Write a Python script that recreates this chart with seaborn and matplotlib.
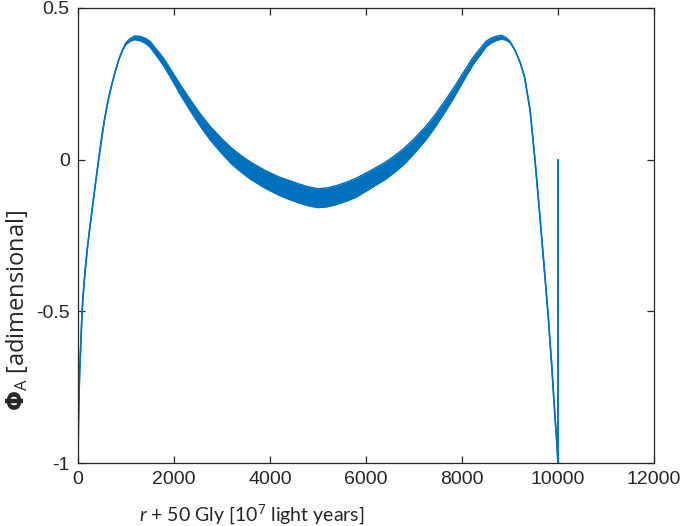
import numpy as np
import pandas as pd
import matplotlib
matplotlib.use("Agg")
import matplotlib.pyplot as plt
import seaborn as sns

# values; the thick part is a fast oscillation,
# kept here as its upper and lower envelope
r_pos = [0, 1, 10, 20, 35, 50, 85, 110, 150, 200, 270, 350, 430, 490, 550,
         620, 700, 775, 850, 925, 1000, 1080, 1180, 1300, 1400, 1500, 1600,
         1700, 1800, 1900, 2000, 2150, 2333, 2550, 2750, 3000, 3200, 3400,
         3600, 3900, 4200, 4400, 4600, 4800, 5000, 5200, 5400, 5600, 5800,
         6100, 6400, 6600, 6800, 7000, 7250, 7450, 7667, 7850, 8000, 8100,
         8200, 8300, 8400, 8500, 8600, 8700, 8820, 8920, 9000, 9100, 9208,
         9300, 9417, 9520, 9625, 9720, 9798, 9870, 9938, 9975, 9999, 10000]
phi_upper = [0.0, -1.0, -0.86, -0.78, -0.70, -0.64, -0.50, -0.44, -0.363,
             -0.285, -0.195, -0.095, 0.0, 0.068, 0.13, 0.19, 0.245, 0.29, 0.33,
             0.36, 0.386, 0.398, 0.408, 0.406, 0.400, 0.390, 0.370, 0.351,
             0.330, 0.305, 0.280, 0.242, 0.199, 0.150, 0.110, 0.068, 0.038,
             0.013, -0.009, -0.036, -0.058, -0.069, -0.080, -0.090, -0.096,
             -0.093, -0.085, -0.074, -0.061, -0.036, -0.009, 0.013, 0.038,
             0.068, 0.110, 0.150, 0.199, 0.242, 0.280, 0.305, 0.330, 0.351,
             0.370, 0.390, 0.400, 0.406, 0.410, 0.402, 0.390, 0.362, 0.322,
             0.275, 0.165, 0.0, -0.19, -0.37, -0.52, -0.68, -0.85, -0.93,
             -1.0, 0.0]
phi_lower = [0.0, -1.0, -0.86, -0.78, -0.70, -0.64, -0.50, -0.44, -0.363,
             -0.285, -0.195, -0.095, 0.0, 0.068, 0.13, 0.19, 0.245, 0.29, 0.33,
             0.36, 0.380, 0.390, 0.396, 0.392, 0.384, 0.372, 0.350, 0.329,
             0.306, 0.279, 0.252, 0.210, 0.163, 0.110, 0.066, 0.020, -0.014,
             -0.041, -0.065, -0.094, -0.118, -0.131, -0.142, -0.152, -0.158,
             -0.155, -0.147, -0.136, -0.123, -0.094, -0.065, -0.041, -0.014,
             0.020, 0.066, 0.110, 0.163, 0.210, 0.252, 0.279, 0.306, 0.329,
             0.350, 0.372, 0.384, 0.392, 0.398, 0.394, 0.386, 0.362, 0.322,
             0.275, 0.165, 0.0, -0.19, -0.37, -0.52, -0.68, -0.85, -0.93,
             -1.0, 0.0]

x_ticks = [0, 2000, 4000, 6000, 8000, 10000, 12000]
y_ticks = [-1, -0.5, 0, 0.5]
y_tick_labels = ["-1", "-0.5", "0", "0.5"]

line_col = "#0072BD"
axis_col = "#262626"

sns.set_theme(style="white")
plt.rcParams["font.family"] = ["Liberation Sans", "DejaVu Sans"]
plt.rcParams["mathtext.fontset"] = "custom"
plt.rcParams["mathtext.rm"] = "Lato"
plt.rcParams["mathtext.it"] = "Lato:italic"

df = pd.DataFrame({"r": r_pos, "upper": phi_upper, "lower": phi_lower})

fig = plt.figure(figsize=(6.85, 5.26), dpi=100)
ax = fig.add_axes([78 / 685, 1 - 463 / 526, (654 - 78) / 685, (463 - 8) / 526])

ax.fill_between(df["r"], df["lower"], df["upper"], color=line_col, lw=0)
sns.lineplot(data=df, x="r", y="upper", sort=False, estimator=None,
             color=line_col, lw=1.1, ax=ax)
sns.lineplot(data=df, x="r", y="lower", sort=False, estimator=None,
             color=line_col, lw=1.1, ax=ax)

ax.set_xlim(0, 12000)
ax.set_ylim(-1, 0.5)
ax.set_xticks(x_ticks)
ax.set_xticklabels([str(t) for t in x_ticks])
ax.set_yticks(y_ticks)
ax.set_yticklabels(y_tick_labels)
ax.set_xlabel("")
ax.set_ylabel("")

for s in ax.spines.values():
    s.set_visible(True)
    s.set_color(axis_col)
    s.set_linewidth(0.9)
ax.tick_params(direction="in", length=5, width=0.9, color=axis_col,
               labelcolor=axis_col, labelsize=14, top=True, right=True,
               bottom=True, left=True, pad=6)

fig.text(252 / 685, 1 - 515 / 526, r"$r$ + 50 Gly [10$^{7}$ light years]",
         ha="center", va="center", fontsize=14, color=axis_col,
         family=["Lato", "DejaVu Sans"])
plt.rcParams["mathtext.rm"] = "Open Sans"
fig.text(17 / 685, 1 - 310 / 526, r"$\mathbf{\Phi}_{\mathrm{A}}$ [adimensional]",
         ha="center", va="center", rotation=90, fontsize=17,
         color=axis_col, family=["Open Sans", "DejaVu Sans"])

fig.savefig("out.png", dpi=100)
